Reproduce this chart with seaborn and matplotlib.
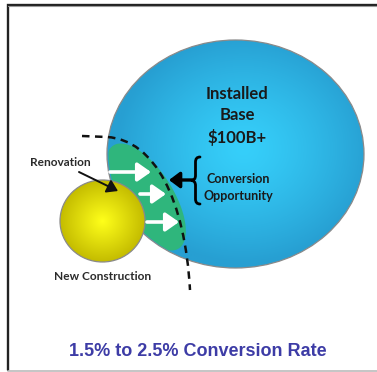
import numpy as np
import matplotlib
matplotlib.use("Agg")
import matplotlib.pyplot as plt
import seaborn as sns
from matplotlib.patches import Ellipse, Polygon, PathPatch, FancyArrowPatch
from matplotlib.path import Path
from matplotlib.colors import LinearSegmentedColormap

# Labels of the market diagram
base_label = ["Installed", "Base", "$100B+"]
opportunity_label = ["Conversion", "Opportunity"]
renovation_label = "Renovation"
new_label = "New Construction"
rate_label = "1.5% to 2.5% Conversion Rate"

sns.set_theme(style="white")
plt.rcParams["font.family"] = ["Lato", "DejaVu Sans"]

W, H = 377, 372
fig = plt.figure(figsize=(W / 100, H / 100), dpi=100)
ax = fig.add_axes([0, 0, 1, 1])
ax.set_xlim(0, W)
ax.set_ylim(H, 0)
ax.axis("off")

# frame: dark top and left edges, light bottom edge
ax.plot([7.5, 7.5, W], [370, 4.5, 4.5], color="#222222", lw=1.7, zorder=1,
        solid_joinstyle="miter")
ax.plot([8, W], [6.2, 6.2], color="#9a9a9a", lw=0.8, zorder=1)
ax.plot([8, W], [370.5, 370.5], color="#bbbbbb", lw=1.2, zorder=1)


def radial_fill(center, w, h, c_in, c_out, zorder, offset=(0, 0), edge="#8a8a8a", power=1.0):
    cx, cy = center
    patch = Ellipse(center, w, h, facecolor="none", edgecolor=edge, lw=0.9, zorder=zorder + 0.5)
    ax.add_patch(patch)
    xs = np.linspace(cx - w / 2, cx + w / 2, 300)
    ys = np.linspace(cy - h / 2, cy + h / 2, 300)
    X, Y = np.meshgrid(xs, ys)
    gx, gy = cx + offset[0], cy + offset[1]
    R = np.sqrt(((X - gx) / (w / 2)) ** 2 + ((Y - gy) / (h / 2)) ** 2)
    cmap = LinearSegmentedColormap.from_list("g", [c_in, c_out])
    im = ax.imshow(np.clip(R, 0, 1) ** power, cmap=cmap, vmin=0, vmax=1,
                   extent=(cx - w / 2, cx + w / 2, cy + h / 2, cy - h / 2),
                   origin="upper", zorder=zorder, interpolation="bilinear")
    im.set_clip_path(Ellipse(center, w, h, transform=ax.transData))


# installed base
radial_fill((235.5, 154), 257, 228, "#36cffa", "#279fd2", 2, offset=(8, -5), power=1.3)

# conversion zone (clipped to the installed base)
c = np.array([146.0, 197.0])
u = np.array([64.0, 101.0]); u /= np.linalg.norm(u)
v = np.array([-u[1], u[0]])
t = np.linspace(0, 2 * np.pi, 200)
pts = c + 61 * np.cos(t)[:, None] * u + 27 * np.sin(t)[:, None] * v
green = Polygon(pts, closed=True, facecolor="#2fb67c", edgecolor="none", zorder=3)
ax.add_patch(green)
green.set_clip_path(Ellipse((237, 154), 257, 228, transform=ax.transData))

# new construction
radial_fill((102.5, 221), 85, 82, "#ffff1a", "#c4bc00", 5)

# dashed boundary
verts = [(82, 136), (107, 137), (155, 140), (185, 200), (190, 290)]
codes = [Path.MOVETO, Path.LINETO, Path.CURVE4, Path.CURVE4, Path.CURVE4]
ax.add_patch(PathPatch(Path(verts, codes), fill=False, edgecolor="#111111", lw=1.8,
                       linestyle=(0, (3, 2.2)), zorder=6))

# white flow arrows
for (x0, x1, y) in [(110, 151, 172), (140, 166, 194), (147, 179, 222)]:
    ax.add_patch(FancyArrowPatch((x0, y), (x1, y), arrowstyle="-|>,head_length=5,head_width=3.5",
                                 mutation_scale=1.6, color="white", lw=2.6, zorder=7,
                                 shrinkA=0, shrinkB=0))

# pointer to the opportunity boundary
ax.add_patch(FancyArrowPatch((193, 180), (169, 180), arrowstyle="-|>,head_length=4,head_width=3",
                             mutation_scale=1.6, color="black", lw=2.4, zorder=7,
                             shrinkA=0, shrinkB=0))

# brace
xr, xm, xt, y0, y1, ym = 200, 195.5, 191, 157, 204, 180.5
bverts = [(xr, y0), (xm, y0), (xm, y0 + 5), (xm, ym - 5), (xm, ym), (xt, ym),
          (xm, ym), (xm, ym + 5), (xm, y1 - 5), (xm, y1), (xr, y1)]
bcodes = [Path.MOVETO, Path.CURVE3, Path.CURVE3, Path.LINETO, Path.CURVE3, Path.CURVE3,
          Path.CURVE3, Path.CURVE3, Path.LINETO, Path.CURVE3, Path.CURVE3]
ax.add_patch(PathPatch(Path(bverts, bcodes), fill=False, edgecolor="black", lw=2.0,
                       capstyle="round", zorder=7))

# renovation pointer
ax.add_patch(FancyArrowPatch((79, 172), (118, 191), arrowstyle="-|>,head_length=4,head_width=2.6",
                             mutation_scale=1.6, color="#111111", lw=1.4, zorder=8,
                             shrinkA=0, shrinkB=0))

txt = "#1a1a1a"
for label, y in zip(base_label, [94, 115.5, 137]):
    ax.text(237, y, label, ha="center", va="center", fontsize=12, fontweight="bold",
            color=txt, zorder=9)
for label, y in zip(opportunity_label, [179, 195.5]):
    ax.text(238.5, y, label, ha="center", va="center", fontsize=9, fontweight="bold",
            color=txt, zorder=9)
ax.text(60, 163, renovation_label, ha="center", va="center", fontsize=8.6, fontweight="bold",
        color="#2a2a2a", zorder=9)
ax.text(103, 276.5, new_label, ha="center", va="center", fontsize=8.6, fontweight="bold",
        color="#2a2a2a", zorder=9)
ax.text(198, 352, rate_label, ha="center", va="center", fontsize=13, fontweight="bold",
        color="#3d3ca6", family=["Liberation Sans", "DejaVu Sans"], zorder=9)

fig.savefig("out.png", dpi=100)
